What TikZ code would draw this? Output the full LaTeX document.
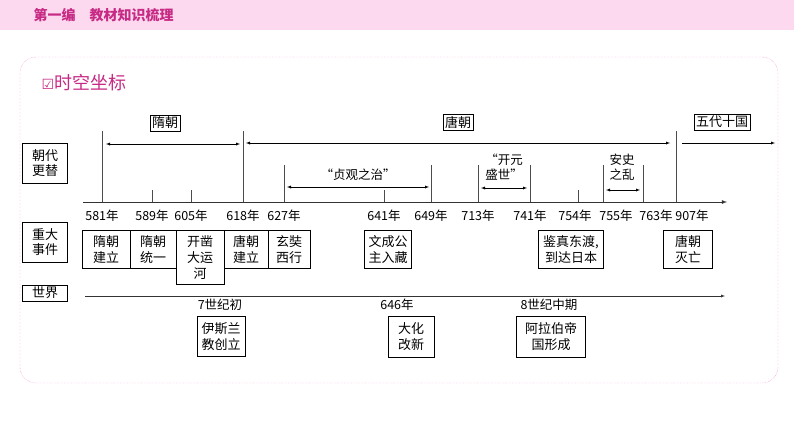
\documentclass[tikz,border=0pt]{standalone}
\usepackage{fontspec}
\setmainfont{Noto Sans CJK SC}
\newfontfamily\symfont{DejaVu Sans}
\usetikzlibrary{arrows.meta}
\tikzset{>=latex}
\colorlet{magcol}{magenta!80!black}
\tikzset{lbox/.style = {draw,thick,align=center,inner sep=2pt,font=\fontsize{13}{15}\selectfont},
         ebox/.style = {draw,align=center,inner sep=1pt,font=\fontsize{13}{16}\selectfont},
         yr/.style = {inner sep=0pt,font=\fontsize{12.5}{15}\selectfont},
         tick/.style = {draw=black!70,thick}}
\begin{document}
\begin{tikzpicture}[x=1pt,y=-1pt]
\useasboundingbox (0,0) rectangle (794,447);
% header
\fill[magenta!15] (0,0) rectangle (794,30);
\node[anchor=west,text=magcol,font=\bfseries\fontsize{14}{16}\selectfont] (head) at (30,15) {第一编\quad 教材知识梳理};
\draw[magenta!60,densely dotted,rounded corners=16pt] (20,57) rectangle (778,383);
\node[anchor=west,text=magcol,font=\fontsize{18}{20}\selectfont] (title) at (38,83) {{\symfont\fontsize{14}{16}\selectfont ☑}时空坐标};

% left labels
\node[lbox,minimum width=45pt,minimum height=40pt] (dyn) at (45,163) {朝代\\更替};
\node[lbox,minimum width=45pt,minimum height=40pt] (evt) at (45,242) {重大\\事件};
\node[lbox,minimum width=45pt] (wld) at (45,293) {世界};

% axis
\coordinate (a0) at (83,202);
\coordinate (a1) at (727,202);
\draw[->,thick,black!80] (a0) -- (a1);
\foreach \x/\t/\y/\l in {102/131/581/102,152/190/589/152,191/190/605/191,243/131/618/243,284/165/627/284,
    384/190/641/384,431/165/649/431,478/165/713/478,530/165/741/530,578/190/754/575,603/165/755/616,643/165/763/656,676/131/907/692}{
  \draw[tick] (\x,\t) -- (\x,202);
  \node[yr] (y\y) at (\l,216) {\y 年};
}

% dynasties
\node[lbox] (sui) at (165,123) {隋朝};
\node[lbox] (tang) at (458,122) {唐朝};
\node[lbox] (wudai) at (722,122) {五代十国};
\coordinate (s0) at (106,144); \coordinate (s1) at (240,144);
\coordinate (t0) at (246,143); \coordinate (t1) at (670,143);
\coordinate (w0) at (682,143); \coordinate (w1) at (775,143);
\draw[<->] (s0) -- (s1);
\draw[<->] (t0) -- (t1);
\draw[->] (w0) -- (w1);

\coordinate (z0) at (287,187); \coordinate (z1) at (429,187);
\draw[<->] (z0) -- (z1);
\node[yr] (zg) at (358,175) {“贞观之治”};
\coordinate (k0) at (481,188); \coordinate (k1) at (527,188);
\draw[<->] (k0) -- (k1);
\node[yr,align=center] (ky) at (504,167) {“开元\\盛世”};
\coordinate (n0) at (606,190); \coordinate (n1) at (640,190);
\draw[<->] (n0) -- (n1);
\node[yr,align=center] (as) at (622,167) {安史\\之乱};

% events
\node[ebox,anchor=north,minimum width=48pt,minimum height=38pt] (e1) at (106,230) {隋朝\\建立};
\node[ebox,anchor=north,minimum width=46pt,minimum height=38pt] (e2) at (153,230) {隋朝\\统一};
\node[ebox,anchor=north,minimum width=48pt,minimum height=54pt] (e3) at (200,230) {开凿\\大运\\河};
\node[ebox,anchor=north,minimum width=44pt,minimum height=38pt] (e4) at (246,230) {唐朝\\建立};
\node[ebox,anchor=north,minimum width=42pt,minimum height=38pt] (e5) at (289,230) {玄奘\\西行};
\node[ebox,anchor=north,minimum width=47pt,minimum height=38pt] (e6) at (388,230) {文成公\\主入藏};
\node[ebox,anchor=north,minimum width=65pt,minimum height=38pt] (e7) at (571,230) {鉴真东渡,\\到达日本};
\node[ebox,anchor=north,minimum width=49pt,minimum height=38pt] (e8) at (688,230) {唐朝\\灭亡};

% world
\coordinate (b0) at (85,296);
\coordinate (b1) at (725,296);
\draw[->,black!80] (b0) -- (b1);
\node[yr] (w7) at (220,305) {7世纪初};
\node[ebox,anchor=north,minimum width=48pt,minimum height=40pt] (isl) at (221,316) {伊斯兰\\教创立};
\node[yr] (w646) at (397,305) {646年};
\node[ebox,anchor=north,minimum width=46pt,minimum height=41pt] (taika) at (411,316) {大化\\改新};
\node[yr] (w8) at (549,305) {8世纪中期};
\node[ebox,anchor=north,minimum width=69pt,minimum height=41pt] (arab) at (551,316) {阿拉伯帝\\国形成};
\end{tikzpicture}
\end{document}
